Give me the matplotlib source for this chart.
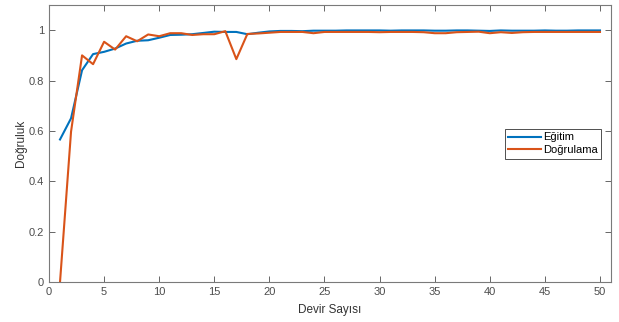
import matplotlib
matplotlib.use("Agg")
import matplotlib.pyplot as plt
import numpy as np

plt.rcParams['font.family'] = ['Liberation Sans', 'DejaVu Sans']

epochs = list(range(1, 51))
egitim = [0.566, 0.650, 0.841, 0.905, 0.914, 0.927, 0.947, 0.958, 0.960, 0.970,
          0.981, 0.982, 0.984, 0.989, 0.994, 0.993, 0.993, 0.984, 0.990, 0.995,
          0.997, 0.997, 0.996, 0.998, 0.998, 0.998, 0.999, 0.999, 0.999, 0.999,
          0.998, 0.999, 0.999, 0.999, 0.998, 0.998, 0.999, 0.999, 0.998, 0.997,
          0.999, 0.998, 0.998, 0.998, 0.999, 0.998, 0.998, 0.999, 0.999, 0.999]
dogrulama = [0.000, 0.597, 0.900, 0.865, 0.954, 0.923, 0.976, 0.956, 0.983, 0.976,
             0.988, 0.988, 0.981, 0.984, 0.984, 0.996, 0.885, 0.985, 0.987, 0.990,
             0.993, 0.993, 0.993, 0.988, 0.993, 0.993, 0.993, 0.993, 0.993, 0.992,
             0.993, 0.993, 0.993, 0.992, 0.988, 0.988, 0.992, 0.993, 0.994, 0.988,
             0.992, 0.989, 0.992, 0.993, 0.993, 0.993, 0.993, 0.993, 0.993, 0.993]
xticks = [0, 5, 10, 15, 20, 25, 30, 35, 40, 45, 50]
yticks = [0, 0.2, 0.4, 0.6, 0.8, 1.0]
ytick_labels = ['0', '0.2', '0.4', '0.6', '0.8', '1']

fig = plt.figure(figsize=(6.19, 3.22), dpi=100)
ax = fig.add_axes([49/619, 40/322, (611-49)/619, (282-5)/322])

ax.plot(epochs, egitim, color='#0072BD', lw=1.5, label='Eğitim')
ax.plot(epochs, dogrulama, color='#D95319', lw=1.5, label='Doğrulama')

ax.set_xlim(0, 51)
ax.set_ylim(0, 1.1)
ax.set_xticks(xticks)
ax.set_yticks(yticks)
ax.set_yticklabels(ytick_labels)

tc = '#4d4d4d'
for s in ax.spines.values():
    s.set_color('#7a7a7a')
    s.set_linewidth(0.8)
ax.tick_params(direction='in', length=4, width=0.6, colors='#4d4d4d',
               labelsize=8, top=True, right=True, labelcolor=tc)
ax.set_xlabel('Devir Sayısı', fontsize=8.5, color='#333333', labelpad=5)
ax.set_ylabel('Doğruluk', fontsize=8.5, color='#333333', labelpad=1)

leg = ax.legend(loc='upper right', bbox_to_anchor=(0.982, 0.552), fontsize=8,
                fancybox=False, framealpha=1, edgecolor='#333333',
                handlelength=2.9, handletextpad=0.2, borderpad=0.3,
                labelspacing=0.25, borderaxespad=0)
leg.get_frame().set_linewidth(0.6)

fig.savefig('out.png', dpi=100)
